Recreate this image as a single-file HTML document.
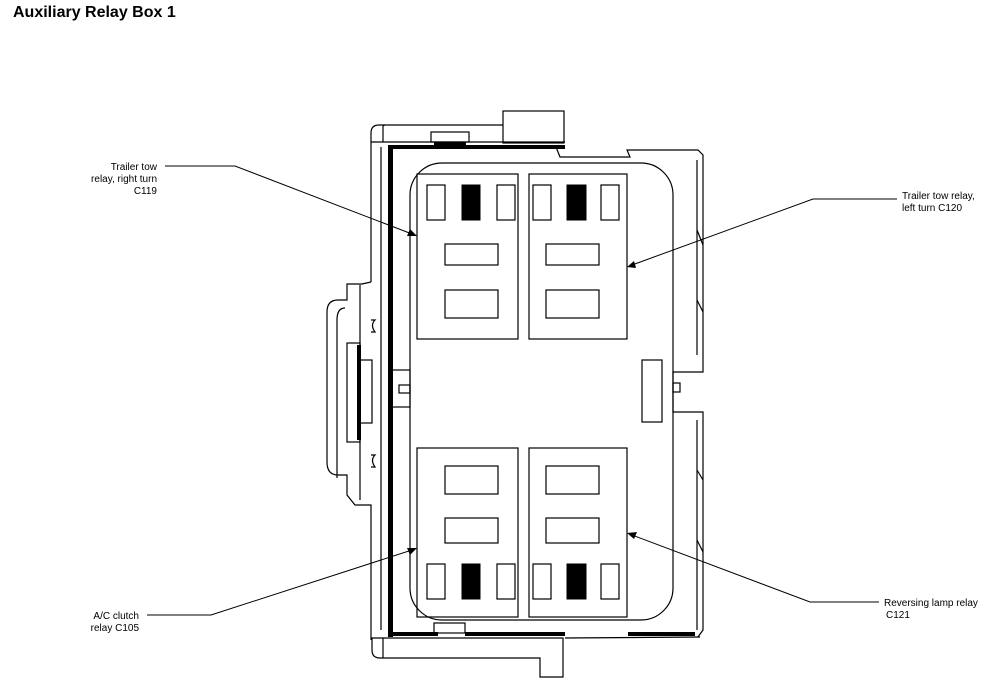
<!DOCTYPE html>
<html><head><meta charset="utf-8"><style>
body{margin:0;background:#fff;width:995px;height:682px;overflow:hidden}
svg{position:absolute;left:0;top:0}
text{font-family:"Liberation Sans",Arial,sans-serif;fill:#000}
</style></head><body>
<svg width="995" height="682" viewBox="0 0 995 682" xmlns="http://www.w3.org/2000/svg">
<text x="13" y="17" font-size="16" font-weight="bold">Auxiliary Relay Box 1</text>
<g font-size="10">
<text x="157" y="170" text-anchor="end">Trailer tow</text>
<text x="157" y="182" text-anchor="end">relay, right turn</text>
<text x="157" y="194" text-anchor="end">C119</text>
<text x="902" y="199">Trailer tow relay,</text>
<text x="902" y="211">left turn C120</text>
<text x="139" y="619" text-anchor="end">A/C clutch</text>
<text x="139" y="631" text-anchor="end">relay C105</text>
<text x="884" y="606">Reversing lamp relay</text>
<text x="886" y="618">C121</text>
</g>
<g fill="none" stroke="#000" stroke-width="1">
<polyline points="165,166 235,166 412,234"/>
<polyline points="897,199 813,199 632,265"/>
<polyline points="147,615 211,615 412,550"/>
<polyline points="879,602 810,602 632,535"/>
</g>
<g fill="#000">
<polygon points="417,236 407,236 410,229"/>
<polygon points="627,267 634,261 636,268"/>
<polygon points="417,548 410,555 407,548"/>
<polygon points="627,533 637,532 634,539"/>
</g>
<g fill="none" stroke="#000" stroke-width="1.2">
<path d="M371,282 V133 Q371,125 379,125 H503"/>
<rect x="503" y="111" width="61" height="32"/>
<line x1="371" y1="142" x2="565" y2="142"/>
<path d="M383,142 V127 Q383,125 385,125"/>
<rect x="431" y="132" width="38" height="10"/>
<path d="M556,147 L560,157 H630 L627,150 H698 L703,155 V372 H673 V412 H703 V630 L698,637"/>
<line x1="697" y1="160" x2="697" y2="355"/>
<line x1="697" y1="420" x2="697" y2="630"/>
<rect x="673" y="383" width="7" height="9"/>
<path d="M697,230 L703,245 M697,300 L703,312 M697,470 L703,480 M697,540 L703,552"/>
<rect x="410" y="163" width="263" height="457" rx="32" ry="32"/>
<rect x="417" y="174" width="101" height="165"/>
<rect x="529" y="174" width="98" height="165"/>
<rect x="417" y="448" width="101" height="169"/>
<rect x="529" y="448" width="98" height="169"/>
<rect x="427" y="185" width="18" height="35"/><rect x="497" y="185" width="18" height="35"/>
<rect x="533" y="185" width="18" height="35"/><rect x="601" y="185" width="18" height="35"/>
<rect x="427" y="564" width="18" height="35"/><rect x="497" y="564" width="18" height="35"/>
<rect x="533" y="564" width="18" height="35"/><rect x="601" y="564" width="18" height="35"/>
<rect x="445" y="244" width="53" height="21"/><rect x="445" y="290" width="53" height="28"/>
<rect x="546" y="244" width="53" height="21"/><rect x="546" y="290" width="53" height="28"/>
<rect x="445" y="466" width="53" height="28"/><rect x="445" y="518" width="53" height="25"/>
<rect x="546" y="466" width="53" height="28"/><rect x="546" y="518" width="53" height="25"/>
<rect x="642" y="360" width="20" height="62"/>
<path d="M371,282 L362,284 H347 V300 H338 Q327,300 327,312 V462 Q327,475 338,475 H347 V495 L355,505 H371 V640"/>
<path d="M360,285 V500"/>
<path d="M337,478 V320 Q337,308 345,308"/>
<rect x="347" y="343" width="13" height="99"/>
<rect x="360" y="360" width="12" height="63"/>
<path d="M371,320 H375 Q370,325 375,332 H371"/>
<path d="M371,455 H375 Q370,460 375,467 H371"/>
<rect x="392" y="370" width="18" height="37"/>
<rect x="399" y="385" width="11" height="8"/>
<line x1="381" y1="147" x2="381" y2="630"/>
<path d="M372,638 H563 V677 H540 V658 H380 Q372,658 372,650 Z"/>
<line x1="383" y1="638" x2="383" y2="658"/>
<rect x="434" y="623" width="31" height="10"/>
<line x1="565" y1="638" x2="700" y2="637"/>
</g>
<g fill="#000" stroke="#000" stroke-width="1">
<rect x="462" y="185" width="18" height="35"/>
<rect x="567" y="185" width="19" height="35"/>
<rect x="462" y="564" width="18" height="35"/>
<rect x="567" y="564" width="19" height="35"/>
</g>
<g fill="#000">
<rect x="388" y="145" width="177" height="4"/>
<rect x="434" y="142" width="32" height="4"/>
<rect x="388" y="145" width="5" height="492"/>
<rect x="388" y="632" width="50" height="4"/>
<rect x="465" y="632" width="100" height="4"/>
<rect x="628" y="632" width="67" height="4"/>
<rect x="357" y="345" width="4" height="95"/>
</g>
</svg>
</body></html>
